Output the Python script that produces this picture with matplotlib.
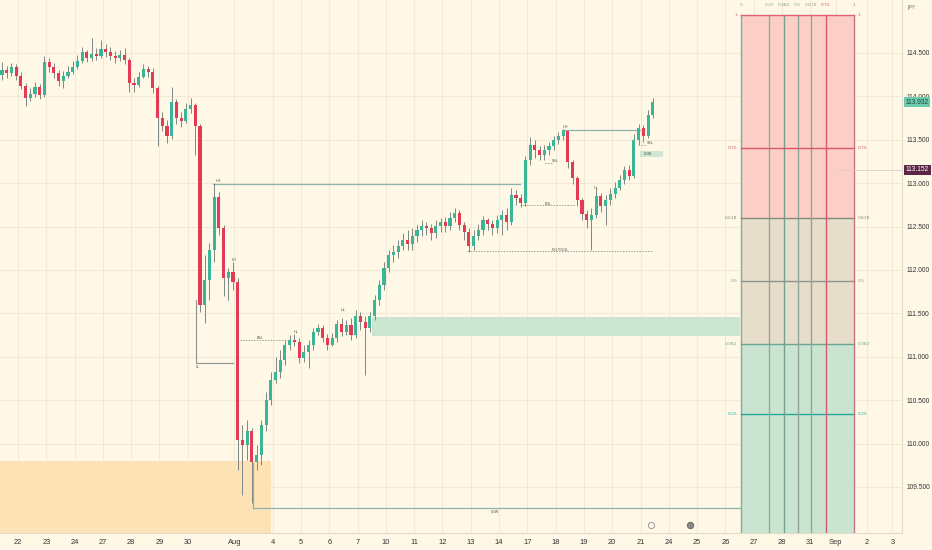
import numpy as np
import matplotlib
matplotlib.use('Agg')
import matplotlib.pyplot as plt
from matplotlib.transforms import blended_transform_factory

# ============ DATA ============
# 4H candles, open of first bar then close / high / low per bar
first_open = 114.25
close = [114.30, 114.27, 114.34, 114.24, 114.12, 113.98, 114.03, 114.11, 114.02, 114.40,
         114.34, 114.27, 114.18, 114.24, 114.28, 114.34, 114.41, 114.51, 114.44, 114.49,
         114.47, 114.55, 114.51, 114.47, 114.44, 114.48, 114.42, 114.15, 114.13, 114.22,
         114.32, 114.28, 114.10, 113.75, 113.66, 113.54, 113.94, 113.75, 113.72, 113.85,
         113.90, 113.66, 111.60, 111.88, 112.23, 112.84, 112.48, 111.91, 111.98, 111.86,
         110.04, 109.98, 110.15, 109.79, 109.87, 110.21, 110.50, 110.73, 110.83, 110.96,
         111.14, 111.19, 111.17, 110.99, 111.06, 111.14, 111.29, 111.33, 111.22, 111.13,
         111.22, 111.38, 111.29, 111.37, 111.25, 111.47, 111.40, 111.33, 111.47, 111.65,
         111.83, 112.02, 112.17, 112.21, 112.28, 112.35, 112.30, 112.39, 112.46, 112.51,
         112.48, 112.43, 112.51, 112.55, 112.51, 112.60, 112.66, 112.52, 112.44, 112.28,
         112.39, 112.46, 112.58, 112.53, 112.48, 112.58, 112.63, 112.55, 112.86, 112.83,
         112.77, 113.27, 113.44, 113.38, 113.33, 113.38, 113.43, 113.50, 113.54, 113.60,
         113.24, 113.06, 112.81, 112.65, 112.58, 112.63, 112.85, 112.74, 112.81, 112.88,
         112.94, 113.04, 113.15, 113.08, 113.50, 113.64, 113.54, 113.79, 113.932]
high = [114.40, 114.35, 114.38, 114.37, 114.28, 114.15, 114.10, 114.17, 114.14, 114.47,
        114.44, 114.38, 114.30, 114.29, 114.35, 114.41, 114.48, 114.57, 114.53, 114.67,
        114.56, 114.65, 114.60, 114.57, 114.52, 114.53, 114.56, 114.44, 114.21, 114.28,
        114.37, 114.35, 114.33, 114.12, 113.82, 113.73, 114.11, 113.97, 113.82, 113.92,
        113.98, 113.92, 113.68, 112.17, 112.31, 113.00, 112.90, 112.52, 112.02, 112.09,
        111.91, 110.21, 110.27, 110.18, 109.98, 110.27, 110.59, 110.83, 111.00, 111.08,
        111.19, 111.25, 111.26, 111.22, 111.14, 111.19, 111.33, 111.38, 111.37, 111.26,
        111.27, 111.42, 111.45, 111.42, 111.45, 111.54, 111.52, 111.47, 111.52, 111.71,
        111.88, 112.09, 112.23, 112.29, 112.35, 112.43, 112.46, 112.48, 112.52, 112.58,
        112.55, 112.53, 112.58, 112.60, 112.61, 112.67, 112.71, 112.69, 112.55, 112.48,
        112.46, 112.53, 112.62, 112.60, 112.58, 112.63, 112.69, 112.71, 112.94, 112.92,
        112.88, 113.31, 113.53, 113.50, 113.43, 113.44, 113.47, 113.54, 113.59, 113.62,
        113.60, 113.27, 113.08, 112.83, 112.69, 112.71, 112.94, 112.89, 112.86, 112.94,
        113.01, 113.09, 113.20, 113.21, 113.57, 113.68, 113.67, 113.84, 113.98]
low = [114.19, 114.21, 114.24, 114.19, 114.09, 113.89, 113.95, 113.99, 113.97, 113.99,
       114.28, 114.21, 114.12, 114.10, 114.21, 114.26, 114.32, 114.38, 114.40, 114.41,
       114.42, 114.44, 114.45, 114.42, 114.38, 114.41, 114.37, 114.05, 114.05, 114.11,
       114.21, 114.22, 114.04, 113.43, 113.60, 113.46, 113.51, 113.68, 113.65, 113.69,
       113.81, 113.33, 111.52, 111.39, 111.65, 112.09, 112.40, 111.70, 111.65, 111.77,
       109.70, 109.41, 109.81, 109.32, 109.70, 109.75, 110.15, 110.45, 110.70, 110.76,
       110.91, 111.08, 111.12, 110.93, 110.94, 110.87, 111.08, 111.25, 111.17, 111.08,
       111.12, 111.17, 111.24, 111.25, 111.19, 111.22, 111.31, 110.79, 111.29, 111.42,
       111.60, 111.77, 111.98, 112.09, 112.14, 112.23, 112.23, 112.23, 112.32, 112.39,
       112.40, 112.35, 112.37, 112.44, 112.44, 112.46, 112.55, 112.46, 112.35, 112.21,
       112.23, 112.35, 112.40, 112.46, 112.40, 112.43, 112.40, 112.46, 112.52, 112.75,
       112.73, 112.74, 113.21, 113.29, 113.27, 113.27, 113.33, 113.38, 113.45, 113.50,
       113.18, 112.99, 112.74, 112.58, 112.48, 112.23, 112.60, 112.67, 112.52, 112.75,
       112.83, 112.92, 112.99, 113.04, 113.06, 113.44, 113.47, 113.52, 113.75]

# day axis (trading days from Jul 22)
day_labels = ['22', '23', '24', '27', '28', '29', '30', 'Aug', '4', '5', '6', '7', '10',
              '11', '12', '13', '14', '17', '18', '19', '20', '21', '24', '25', '26', '27',
              '28', '31', 'Sep', '2', '3']
day_pos = [0, 1, 2, 3, 4, 5, 6, 7.65, 9, 10, 11, 12, 13, 14, 15, 16, 17, 18, 19, 20, 21,
           22, 23, 24, 25, 26, 27, 28, 28.9, 30, 30.9]
price_ticks = [109.5, 110.0, 110.5, 111.0, 111.5, 112.0, 112.5, 113.0, 113.5, 114.0, 114.5]

# fib grid (price levels + time levels)
fib_levels = [0, 0.25, 0.382, 0.5, 0.618, 0.75, 1]
fib_price_lo, fib_price_hi = 108.81, 114.94
fib_day_lo, fib_day_hi = 25.55, 29.55

last_price = 113.932
marked_price = 113.152

# zones / structure
demand_zone = (12.51, 25.51, 111.24, 111.46)
orange_zone = (8.94, 109.80)
hh_level = 112.99
hh2_level = 113.61
low_level = 109.26
eq_level = 112.75
pool_level = 112.22
bsl_level = 111.19
ll_level = 110.93

# ============ STYLE ============
BG = '#fff8e7'
GRID = '#f2ead6'
UP = '#3ab598'
DOWN = '#e33b55'
WICK = '#7f8783'
STRUCT = '#8fb3aa'
TXT = '#555555'
AXFONT = ['Liberation Sans', 'DejaVu Sans']

fig = plt.figure(figsize=(9.32, 5.5), dpi=100, facecolor=BG)
ax = fig.add_axes([0, 17 / 550, 902 / 932, 533 / 550])
ax.set_facecolor(BG)
ax.set_xlim(-0.636, 31.24)
ax.set_ylim(108.97, 115.11)

# grid
for d in day_pos:
    ax.axvline(d, color=GRID, lw=0.8, zorder=0)
for p in price_ticks:
    ax.axhline(p, color=GRID, lw=0.8, zorder=0)

# ============ ZONES ============
ax.fill_between([ax.get_xlim()[0], orange_zone[0]], 108.97, orange_zone[1],
                color='#fde2b5', lw=0, zorder=1)
ax.fill_between([demand_zone[0], demand_zone[1]], demand_zone[2], demand_zone[3],
                color='#cce5d1', lw=0, zorder=1)

# fib fills
zone_cols = [(0, 0.382, '#c9e5d1'), (0.382, 0.618, '#e6ddcb'), (0.618, 1, '#fbcfc6')]
span = fib_price_hi - fib_price_lo
for a, b, c in zone_cols:
    ax.fill_between([fib_day_lo, fib_day_hi], fib_price_lo + a * span, fib_price_lo + b * span,
                    color=c, lw=0, zorder=1)

hcols = {0: '#7fae9c', 0.25: '#26a69a', 0.382: '#6aa593', 0.5: '#8b938c',
         0.618: '#858a80', 0.75: '#d9596a', 1: '#e06070'}
vcols = {0: '#7fae9c', 0.25: '#93aa95', 0.382: '#6fa38c', 0.5: '#94a39a',
         0.618: '#94a39a', 0.75: '#d9596a', 1: '#c8747e'}
for lv in fib_levels:
    py = fib_price_lo + lv * span
    if lv > 0:
        ax.plot([fib_day_lo, fib_day_hi], [py, py], color=hcols[lv], lw=1.0, zorder=2)
        ax.text(fib_day_lo - 0.12, py, str(lv), fontsize=3.2, color=hcols[lv],
                ha='right', va='center', zorder=5)
        ax.text(fib_day_hi + 0.12, py, str(lv), fontsize=3.2, color=hcols[lv],
                ha='left', va='center', zorder=5)
    dx = fib_day_lo + lv * (fib_day_hi - fib_day_lo)
    ax.plot([dx, dx], [108.5, fib_price_hi], color=vcols[lv], lw=1.0, zorder=2, clip_on=True)
    ax.text(dx, fib_price_hi + 0.09, str(lv), fontsize=3.2, color=vcols[lv],
            ha='center', va='bottom', zorder=5)

# ============ CANDLES ============
close = np.array(close)
high = np.array(high)
low = np.array(low)
opens = np.concatenate([[first_open], close[:-1]])
x = (np.arange(len(close)) - 3.4) / 6
up = close >= opens
cols = np.where(up, UP, DOWN)
ax.vlines(x, low, high, color=WICK, lw=0.7, zorder=3)
bottom = np.minimum(opens, close)
height = np.maximum(np.abs(close - opens), 0.012)
ax.bar(x, height, bottom=bottom, width=0.11, color=cols, lw=0, zorder=4)

# ============ STRUCTURE ============
ax.plot([6.89, 17.74], [hh_level, hh_level], color=STRUCT, lw=0.9, zorder=2)
ax.plot([19.22, 21.98], [hh2_level, hh2_level], color=STRUCT, lw=0.9, zorder=2)
ax.plot([8.30, 25.51], [low_level, low_level], color=STRUCT, lw=0.9, zorder=2)
ax.plot([8.30, 8.30], [low_level, 109.78], color=STRUCT, lw=0.9, zorder=2)
ax.plot([6.29, 6.29, 7.60], [111.65, ll_level, ll_level], color='#8c9490', lw=0.8, zorder=2)
ax.plot([7.74, 9.61], [bsl_level, bsl_level], color='#777', lw=0.5, ls=(0, (2, 2)), zorder=2)
ax.plot([7.74, 7.74], [bsl_level, 110.3], color='#8c9490', lw=0.8, zorder=2)
ax.plot([17.74, 19.68], [eq_level, eq_level], color='#777', lw=0.5, ls=(0, (2, 2)), zorder=2)
ax.plot([15.87, 22.44], [pool_level, pool_level], color='#777', lw=0.5, ls=(0, (2, 2)), zorder=2)
ax.plot([18.62, 18.87], [113.23, 113.23], color='#777', lw=0.5, ls=(0, (2, 2)), zorder=2)
ax.plot([22.0, 22.15], [113.44, 113.44], color='#777', lw=0.5, ls=(0, (2, 2)), zorder=2)
ax.fill_between([21.98, 22.79], 113.30, 113.37, color='#cfe6d3', lw=0, zorder=2)

labels = [(7.07, 113.03, 'HH'), (7.65, 112.12, 'LH'), (6.36, 110.88, 'LL'),
          (8.55, 111.22, 'BSL'), (9.82, 111.28, 'HL'), (11.48, 111.54, 'HL'),
          (19.33, 113.65, 'HH'), (18.73, 112.77, 'EQL'), (18.98, 113.25, 'SSL'),
          (19.15, 112.24, 'EQ POOL'), (20.42, 112.95, 'HL'), (22.33, 113.46, 'SSL'),
          (22.26, 113.335, 'LOW'), (16.86, 109.21, 'LOW')]
for lx, ly, s in labels:
    ax.text(lx, ly, s, fontsize=2.6, color=TXT, ha='center', va='center', zorder=6)

# marked price line
ax.axhline(marked_price, xmin=0.93, color='#d9cfc0', lw=0.6, zorder=2)

# bottom icons
ax.plot([22.37], [109.06], marker='o', ms=4.5, mfc=BG, mec='#9a9a9a', mew=0.7, zorder=6)
ax.plot([23.75], [109.06], marker='o', ms=4.5, mfc='#8a8a8a', mec='#666', mew=0.7, zorder=6)

# ============ AXES ============
for s in ['top', 'left']:
    ax.spines[s].set_visible(False)
ax.spines['right'].set_color('#e3dac8')
ax.spines['bottom'].set_color('#e3dac8')
ax.yaxis.tick_right()
ax.set_yticks(price_ticks)
ax.set_yticklabels([f'{p:.3f}' for p in price_ticks], fontsize=4.8, color='#333333',
                   family=AXFONT)
ax.tick_params(axis='y', length=0, pad=3)
ax.set_xticks(day_pos)
ax.set_xticklabels(day_labels, fontsize=5.4, color='#333333', family=AXFONT)
ax.tick_params(axis='x', length=0, pad=4)

tr = blended_transform_factory(ax.transAxes, ax.transData)
ax.text(1.004, last_price, f'{last_price:.3f}', transform=tr, fontsize=4.8,
        color='#1d4a3f', ha='left', va='center', zorder=10, family=AXFONT,
        bbox=dict(boxstyle='square,pad=0.25', fc='#6ccaae', ec='none'))
ax.text(1.004, marked_price, f'{marked_price:.3f}', transform=tr, fontsize=4.8, color='white',
        ha='left', va='center', zorder=10, family=AXFONT,
        bbox=dict(boxstyle='square,pad=0.25', fc='#5b2646', ec='none'))
fig.text(907 / 932, 1 - 8 / 550, 'JPY', fontsize=4, color='#777777', ha='left', va='center')

fig.savefig('out.png', dpi=100, facecolor=BG)
